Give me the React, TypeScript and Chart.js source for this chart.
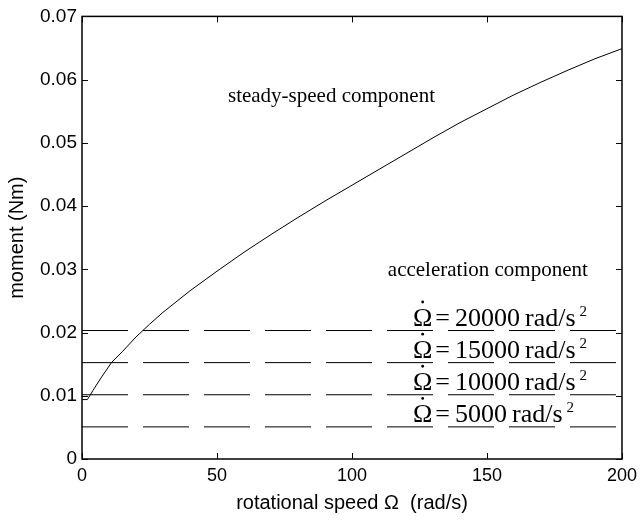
import { useEffect, useRef } from 'react';
import { Chart, registerables } from 'chart.js';

Chart.register(...registerables);

// rotational speed (rad/s)
const speedValues = [0, 2, 4, 7, 11, 15, 20, 25, 30, 40, 50, 60, 70, 80, 90, 100, 110, 120, 130, 140, 150, 160, 170, 180, 190, 200];
// steady-speed moment (Nm)
const steadyMoment = [0.0094, 0.0094, 0.0108, 0.0128, 0.0153, 0.0170, 0.0193, 0.0213, 0.0232, 0.0266, 0.0297, 0.0327, 0.0355, 0.0382, 0.0408, 0.0433, 0.0458, 0.0483, 0.0508, 0.0532, 0.0554, 0.0576, 0.0596, 0.0615, 0.0633, 0.0649];
// acceleration component levels
const accelRates = ['20000', '15000', '10000', '5000'];
const accelMoment = [0.02032, 0.01524, 0.01016, 0.00508];
const speedRange = [0, 200];
// tick labels
const xTickValues = [0, 50, 100, 150, 200];
const yTickValues = [0, 0.01, 0.02, 0.03, 0.04, 0.05, 0.06, 0.07];
const steadyText = 'steady-speed component';
const accelText = 'acceleration component';
const xTitle = 'rotational speed \u03A9  (rad/s)';
const yTitle = 'moment (Nm)';

const SANS = '"Liberation Sans", Arial, sans-serif';
const SERIF = '"Liberation Serif", "Times New Roman", serif';

const framePlugin = {
  id: 'frameTicks',
  afterDatasetsDraw(chart: any) {
    const { ctx, chartArea: a, scales } = chart;
    const xs = scales.x;
    const ys = scales.y;
    ctx.save();
    // texts
    ctx.fillStyle = '#000';
    ctx.textBaseline = 'alphabetic';
    ctx.font = `21px ${SERIF}`;
    ctx.textAlign = 'center';
    ctx.fillText(steadyText, xs.getPixelForValue(92.4), ys.getPixelForValue(0.0564));
    ctx.fillText(accelText, xs.getPixelForValue(150.3), ys.getPixelForValue(0.029));
    ctx.textAlign = 'left';
    accelRates.forEach((r, i) => {
      let x = xs.getPixelForValue(122.6);
      const yb = ys.getPixelForValue(accelMoment[i]) - 5;
      ctx.font = `26px ${SERIF}`;
      const omegaW = ctx.measureText('\u03A9').width;
      ctx.fillText('\u03A9', x, yb);
      // dot above Omega (time derivative)
      ctx.beginPath();
      ctx.arc(x + omegaW / 2, yb - 23.5, 1.4, 0, Math.PI * 2);
      ctx.fill();
      x += omegaW + 3;
      ctx.fillText('=', x, yb);
      x += ctx.measureText('=').width + 5;
      ctx.fillText(r, x, yb);
      x += ctx.measureText(r).width + 5;
      ctx.fillText('rad/s', x, yb);
      x += ctx.measureText('rad/s').width + 4;
      ctx.font = `15px ${SERIF}`;
      ctx.fillText('2', x, yb - 10);
    });
    // frame
    ctx.strokeStyle = '#000';
    ctx.lineWidth = 1.5;
    ctx.strokeRect(a.left, a.top, a.right - a.left, a.bottom - a.top);
    ctx.lineWidth = 1;
    const tl = 6;
    ctx.beginPath();
    xTickValues.forEach((v) => {
      const px = Math.round(xs.getPixelForValue(v)) + 0.5;
      ctx.moveTo(px, a.bottom);
      ctx.lineTo(px, a.bottom - tl);
      ctx.moveTo(px, a.top);
      ctx.lineTo(px, a.top + tl);
    });
    yTickValues.forEach((v) => {
      const py = Math.round(ys.getPixelForValue(v)) + 0.5;
      ctx.moveTo(a.left, py);
      ctx.lineTo(a.left + tl, py);
      ctx.moveTo(a.right, py);
      ctx.lineTo(a.right - tl, py);
    });
    ctx.stroke();
    ctx.restore();
  },
};

export default function App() {
  const ref = useRef<HTMLCanvasElement | null>(null);
  useEffect(() => {
    if (!ref.current) return;
    const datasets: any[] = [
      {
        label: 'steady',
        data: speedValues.map((x, i) => ({ x, y: steadyMoment[i] })),
        borderColor: '#000',
        borderWidth: 1,
        pointRadius: 0,
        tension: 0,
        showLine: true,
      },
      ...accelMoment.map((m, i) => ({
        label: accelRates[i],
        data: speedRange.map((x) => ({ x, y: m })),
        borderColor: '#000',
        borderWidth: 1,
        borderDash: [46, 15],
        pointRadius: 0,
        showLine: true,
      })),
    ];
    const chart = new Chart(ref.current, {
      type: 'scatter',
      data: { datasets },
      plugins: [framePlugin],
      options: {
        animation: false,
        responsive: false,
        maintainAspectRatio: false,
        layout: { padding: { top: 15, right: 17, left: 0, bottom: 0 } },
        plugins: { legend: { display: false }, tooltip: { enabled: false } },
        scales: {
          x: {
            type: 'linear',
            min: 0,
            max: 200,
            afterFit: (s: any) => { s.height = 61; },
            afterBuildTicks: (s: any) => { s.ticks = xTickValues.map((v) => ({ value: v })); },
            grid: { display: false, drawTicks: false },
            border: { display: false },
            ticks: {
              color: '#000',
              font: { family: SANS, size: 18 },
              padding: 6,
              maxRotation: 0,
              callback: (v: any) => String(v),
            },
            title: {
              display: true,
              text: xTitle,
              color: '#000',
              font: { family: SANS, size: 20 },
              padding: { top: 0, bottom: 5 },
            },
          },
          y: {
            type: 'linear',
            min: 0,
            max: 0.07,
            afterFit: (s: any) => { s.width = 82; },
            afterBuildTicks: (s: any) => { s.ticks = yTickValues.map((v) => ({ value: v })); },
            grid: { display: false, drawTicks: false },
            border: { display: false },
            ticks: {
              color: '#000',
              font: { family: SANS, size: 19 },
              padding: 5,
              callback: (v: any) => (Math.abs(v) < 1e-9 ? '0' : Number(v).toFixed(2)),
            },
            title: {
              display: true,
              text: yTitle,
              color: '#000',
              font: { family: SANS, size: 20 },
              padding: { top: 5, bottom: 0 },
            },
          },
        },
      },
    });
    return () => chart.destroy();
  }, []);
  return (
    <div style={{ position: 'fixed', left: 0, top: 0, width: 643, height: 520, background: '#fff' }}>
      <canvas ref={ref} width={643} height={520} style={{ width: 643, height: 520, display: 'block' }} />
    </div>
  );
}
